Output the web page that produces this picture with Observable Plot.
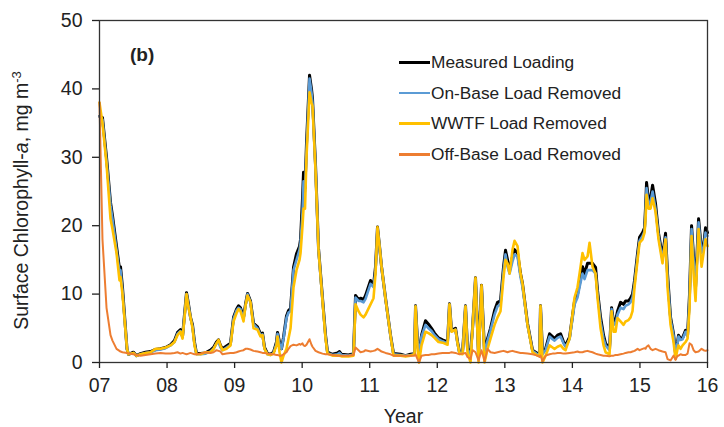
<!DOCTYPE html>
<html>
<head>
<meta charset="utf-8">
<script src="https://cdn.jsdelivr.net/npm/d3@7"></script>
<script src="https://cdn.jsdelivr.net/npm/@observablehq/plot@0.6"></script>
<style>
  html, body { margin: 0; padding: 0; background: #fff; }
  #wrap { position: relative; width: 724px; height: 427px; font-family: "Liberation Sans", Arial, sans-serif; color: #222; }
  #panel { position: absolute; left: 130px; top: 44px; font-weight: bold; font-size: 19px; }
  #legend { position: absolute; left: 399px; top: 47px; font-size: 17.3px; }
  .row { height: 30.7px; display: flex; align-items: center; }
  .swatch { width: 31px; height: 2.5px; margin-right: 1px; }
</style>
</head>
<body>
<div id="wrap">
  <div id="chart"></div>
  <div id="panel">(b)</div>
  <div id="legend"></div>
</div>
<script>
// Decimal year (years since 2000)
const years = [
  7.000, 7.044, 7.104, 7.163, 7.192, 7.252, 7.296, 7.311, 7.340, 7.407,
  7.429, 7.503, 7.548, 7.607, 7.681, 7.755, 7.829, 7.903, 7.977, 8.051,
  8.110, 8.155, 8.199, 8.229, 8.258, 8.288, 8.318, 8.347, 8.377, 8.406,
  8.436, 8.495, 8.569, 8.643, 8.688, 8.732, 8.762, 8.791, 8.821, 8.880,
  8.939, 8.984, 9.028, 9.058, 9.087, 9.132, 9.161, 9.191, 9.235, 9.280,
  9.339, 9.383, 9.413, 9.443, 9.487, 9.531, 9.576, 9.620, 9.635, 9.665,
  9.694, 9.724, 9.768, 9.798, 9.828, 9.872, 9.916, 9.961, 9.976, 10.005,
  10.020, 10.042, 10.064, 10.109, 10.138, 10.153, 10.198, 10.242, 10.301, 10.346,
  10.375, 10.449, 10.523, 10.553, 10.583, 10.686, 10.760, 10.790, 10.834, 10.864,
  10.908, 10.938, 11.012, 11.056, 11.086, 11.115, 11.145, 11.175, 11.234, 11.308,
  11.352, 11.456, 11.530, 11.604, 11.663, 11.678, 11.708, 11.730, 11.767, 11.826,
  11.870, 11.915, 11.959, 12.018, 12.078, 12.152, 12.181, 12.211, 12.270, 12.300,
  12.329, 12.374, 12.418, 12.448, 12.492, 12.522, 12.566, 12.611, 12.655, 12.700,
  12.744, 12.788, 12.848, 12.892, 12.936, 12.981, 13.010, 13.040, 13.070, 13.114,
  13.144, 13.188, 13.232, 13.262, 13.336, 13.410, 13.484, 13.514, 13.528, 13.558,
  13.603, 13.662, 13.706, 13.736, 13.780, 13.825, 13.869, 13.899, 13.958, 14.032,
  14.076, 14.106, 14.150, 14.180, 14.224, 14.254, 14.298, 14.343, 14.372, 14.417,
  14.461, 14.491, 14.550, 14.580, 14.609, 14.639, 14.668, 14.713, 14.757, 14.787,
  14.831, 14.861, 14.890, 14.920, 14.965, 14.994, 15.039, 15.068, 15.083, 15.098,
  15.127, 15.157, 15.187, 15.231, 15.275, 15.334, 15.379, 15.408, 15.453, 15.497,
  15.527, 15.557, 15.571, 15.601, 15.631, 15.675, 15.705, 15.734, 15.764, 15.794,
  15.823, 15.868, 15.912, 15.942, 15.971, 16.000
];

const measured = [
  36.0, 35.8, 30, 23.4, 21.5, 17, 13.7, 14, 11, 2,
  1.2, 1.5, 1.0, 1.3, 1.5, 1.6, 1.9, 2.0, 2.2, 2.6,
  3.2, 4.4, 4.8, 3.8, 7, 10.2, 8.5, 6.6, 5.5, 3,
  1.3, 1.3, 1.4, 1.8, 2.2, 3.0, 3.3, 2.5, 2.0, 2.4,
  2.8, 6.6, 7.8, 8.3, 8, 6.6, 8.5, 10.1, 9, 5.7,
  5.2, 4.2, 4.3, 2.2, 1.3, 1.2, 1.5, 3, 4.4, 3.0,
  2.0, 3.7, 6.8, 7.6, 7.9, 13.9, 15.9, 17.0, 18.0, 24.0,
  27.8, 25.5, 32, 42.0, 40, 38.6, 28.8, 16.7, 9.4, 4,
  1.5, 1.2, 1.4, 1.6, 1.2, 1.1, 1.3, 9.8, 9.2, 9.4,
  9.2, 9.8, 12, 11.3, 14, 19.8, 17, 14, 9.4, 4,
  1.3, 1.2, 1.0, 1.2, 1.3, 8.3, 3, 1.2, 4, 6.1,
  5.6, 5, 4.3, 3.6, 3.3, 3, 8.6, 4.7, 5, 3,
  1.5, 1.5, 8.3, 2, 1.5, 5, 12.4, 1.0, 11.3, 1.5,
  3.5, 5, 7.6, 8.8, 9, 14, 16.4, 15, 13.5, 15.5,
  16.5, 16.0, 13, 11.5, 5.7, 1.8, 1.3, 1.3, 8.3, 1.5,
  2, 4.2, 3.8, 3.5, 4, 4.2, 3, 2.5, 3.7, 9,
  10, 11.5, 14.0, 13.0, 14.5, 14.5, 14.5, 13.9, 10.5, 6.6,
  4, 2.8, 2, 8, 6, 6.1, 7.5, 8.8, 8.5, 9,
  9, 9.4, 10, 12, 16, 18.3, 19, 19.7, 22.7, 26.3,
  23.7, 24, 25.9, 23.2, 18.9, 15.4, 18.9, 13, 6.6, 4.2,
  1.3, 3, 4, 3.5, 3.6, 4.7, 4, 10, 20, 15.4,
  11, 21, 16.4, 17, 19.7, 19
];

const onBase = [
  36.0, 35.5, 29.5, 23, 21, 16.5, 13.2, 13.5, 10.5, 2,
  1.2, 1.4, 1.0, 1.2, 1.4, 1.5, 1.8, 1.9, 2.1, 2.5,
  3.0, 4.2, 4.6, 3.7, 6.8, 10.0, 8.3, 6.5, 5.3, 2.8,
  1.2, 1.2, 1.3, 1.6, 2.0, 2.8, 3.0, 2.2, 1.8, 2.2,
  2.6, 6.4, 7.6, 8.0, 7.8, 6.4, 8.3, 10.0, 8.8, 5.6,
  5.0, 4.0, 4.1, 2.0, 1.2, 1.1, 1.4, 2.8, 4.2, 2.8,
  2.0, 3.5, 6.5, 7.3, 7.5, 13.5, 15.0, 16.5, 17.5, 22,
  26.5, 25, 31, 41.5, 39.5, 38, 28.5, 16.5, 9.2, 3.8,
  1.4, 1.1, 1.2, 1.4, 1.1, 1.0, 1.2, 9.5, 9.0, 9.0,
  8.8, 9.3, 11.5, 11, 13.5, 19.5, 17, 14, 9.3, 3.9,
  1.2, 1.1, 1.0, 1.1, 1.2, 8.2, 3, 1.2, 3.8, 5.5,
  5.0, 4.6, 4.0, 3.4, 3.1, 2.8, 8.5, 4.6, 4.8, 2.8,
  1.4, 1.4, 8.2, 1.8, 1.2, 4.8, 12.2, 0.8, 11.0, 1.2,
  3.2, 4.7, 7.0, 8.2, 8.5, 13.5, 15.8, 14.0, 13.0, 14.8,
  15.8, 15.5, 12.5, 11.0, 5.5, 1.7, 1.2, 1.2, 8.2, 1.2,
  1.8, 3.8, 3.4, 3.2, 3.6, 3.8, 2.8, 2.3, 3.4, 8.5,
  9.5, 11.0, 13.0, 12.2, 13.5, 13.5, 13.5, 13.0, 10.0, 6.0,
  3.5, 2.5, 1.8, 7.8, 5.5, 5.6, 7.0, 8.0, 7.8, 8.3,
  8.5, 8.8, 9.5, 11.5, 15.5, 17.8, 18.5, 19.2, 22.0, 25.5,
  23.0, 23.5, 25.0, 22.5, 18.5, 15.0, 18.3, 12.5, 6.3, 4.0,
  1.2, 2.8, 3.8, 3.3, 3.4, 4.5, 3.8, 9.5, 19.5, 15.0,
  10.5, 20.5, 16.0, 16.8, 19.0, 18.5
];

const wwtf = [
  38.0, 35.0, 29, 21, 19.5, 16, 12, 12.5, 10, 2,
  1.2, 1.4, 1.0, 1.2, 1.4, 1.5, 2.0, 2.0, 2.2, 2.5,
  3.0, 4.0, 4.5, 3.5, 6.5, 10.0, 8.0, 6.6, 5.0, 2.5,
  1.2, 1.2, 1.5, 1.5, 2.0, 2.8, 3.3, 2.5, 1.8, 2.0,
  2.5, 6.0, 7.2, 7.8, 7.5, 6.0, 8.3, 9.8, 8.8, 5.0,
  4.8, 3.8, 4.0, 2.0, 1.2, 1.1, 1.3, 2.5, 3.8, 1.5,
  0.0, 1.0, 2.0, 3.5, 5.0, 11.0, 13.5, 15.0, 16.0, 20.0,
  22.5, 22.5, 30, 39.5, 38, 37.5, 28, 16.5, 9.0, 3.5,
  1.3, 1.0, 1.0, 1.0, 0.9, 0.9, 1.0, 8.5, 7.5, 7.0,
  6.6, 7.0, 8.5, 9.4, 13, 19.8, 17, 14, 9.3, 3.9,
  1.0, 1.0, 0.9, 1.0, 1.2, 8.2, 2.0, 0.0, 2.5, 4.5,
  4.3, 4.0, 3.6, 3.0, 2.9, 2.6, 8.5, 4.5, 4.8, 2.8,
  1.3, 1.2, 8.2, 1.5, 0.0, 5.0, 12.4, 0.0, 11.3, 0.0,
  2.0, 3.5, 5.5, 6.6, 7.5, 12.5, 15.0, 14.5, 13.0, 16.5,
  17.8, 17.0, 13.0, 11.5, 5.5, 1.5, 1.0, 1.0, 8.3, 0.0,
  1.0, 2.5, 2.2, 2.0, 2.3, 2.5, 2.0, 1.8, 3.5, 9.5,
  11.0, 13, 16.0, 15.0, 15.5, 17.5, 14.0, 13.0, 9.5, 5.0,
  2.5, 1.5, 1.2, 7.5, 4.5, 4.5, 6.5, 6.0, 5.5, 6.0,
  6.2, 6.6, 7.5, 11.0, 15.0, 17.5, 18.0, 19.0, 21.0, 24.5,
  22.5, 22.5, 24.0, 22.0, 18.0, 14.5, 18.0, 11.0, 5.5, 3.0,
  0.5, 2.0, 2.5, 2.0, 2.5, 3.0, 3.5, 8.0, 18.5, 13.0,
  9.0, 19.5, 14.0, 16.0, 18.0, 17.0
];

const offBase = [
  38.0, 18, 8, 4, 3.2, 2, 1.7, 1.6, 1.5, 1.4,
  1.3, 1.2, 1.1, 1.0, 1.1, 1.2, 1.3, 1.4, 1.3, 1.3,
  1.4, 1.5, 1.3, 1.4, 1.3, 1.2, 1.3, 1.4, 1.3, 1.2,
  1.2, 1.3, 1.5, 1.4, 1.5, 1.8, 1.7, 1.6, 1.2, 1.3,
  1.4, 1.4, 1.5, 1.6, 1.7, 1.8, 2.0, 2.0, 1.9, 1.7,
  1.6, 1.5, 1.4, 1.4, 1.3, 1.2, 1.2, 1.1, 1.1, 1.0,
  1.0, 1.2, 1.5, 2.0, 2.4, 2.6, 2.5, 2.7, 2.6, 2.8,
  2.5, 2.4, 2.6, 3.4, 2.6, 2.3, 1.7, 1.5, 1.3, 1.2,
  1.2, 1.1, 1.0, 1.0, 1.0, 1.0, 1.1, 2.2, 1.8, 1.5,
  1.6, 1.8, 1.6, 1.7, 1.8, 2.0, 1.8, 1.6, 1.4, 1.2,
  1.0, 1.0, 1.0, 1.0, 1.0, 1.2, 0.5, 0.0, 1.0, 1.1,
  1.1, 1.2, 1.2, 1.3, 1.4, 1.4, 1.4, 1.5, 1.4, 1.3,
  1.2, 1.3, 1.4, 0.8, 0.5, 1.8, 1.5, 0.3, 1.8, 0.2,
  2.0, 1.5, 1.4, 1.5, 1.6, 1.7, 1.6, 1.5, 1.6, 1.7,
  1.6, 1.5, 1.4, 1.4, 1.3, 1.2, 1.0, 0.8, 1.0, 0.2,
  1.0, 1.2, 1.3, 1.3, 1.4, 1.4, 1.3, 1.3, 1.4, 1.5,
  1.6, 1.5, 1.5, 1.6, 1.7, 1.6, 1.5, 1.3, 1.2, 1.1,
  1.0, 1.0, 0.9, 1.0, 1.0, 1.1, 1.1, 1.2, 1.3, 1.4,
  1.5, 1.5, 1.6, 1.7, 2.0, 1.8, 2.0, 2.1, 2.0, 2.3,
  2.5, 2.0, 1.8, 2.0, 1.8, 1.6, 1.5, 0.5, 0.3, 1.0,
  0.4, 1.0, 1.0, 1.2, 1.1, 1.1, 1.3, 2.8, 2.6, 1.8,
  1.5, 1.6, 2.0, 1.8, 1.7, 1.8
];

const seriesNames = ["Measured Loading", "On-Base Load Removed", "WWTF Load Removed", "Off-Base Load Removed"];
const seriesColors = ["#000000", "#5b9bd5", "#ffc000", "#ed7d31"];
const seriesValues = [measured, onBase, wwtf, offBase];
const seriesWidths = [3, 2.6, 2.6, 2];

const xTicks = [7, 8, 9, 10, 11, 12, 13, 14, 15, 16];
const yTicks = [0, 10, 20, 30, 40, 50];

const lineMarks = seriesValues.map((vals, k) =>
  Plot.line(years.map((t, i) => ({t, v: vals[i]})), {
    x: "t", y: "v", stroke: seriesColors[k], strokeWidth: seriesWidths[k],
    strokeLinejoin: "round", strokeLinecap: "round"
  })
);

const chart = Plot.plot({
  width: 724,
  height: 427,
  marginLeft: 99,
  marginRight: 17,
  marginTop: 20,
  marginBottom: 65,
  style: {fontFamily: "'Liberation Sans', Arial, sans-serif", fontSize: "19px", color: "#222", background: "transparent"},
  x: {domain: [7, 16]},
  y: {domain: [0, 50]},
  marks: [
    ...lineMarks,
    Plot.frame({stroke: "#333", strokeWidth: 1.3}),
    Plot.axisX({ticks: xTicks, tickFormat: d => String(d).padStart(2, "0"), tickSize: 6, tickPadding: 10,
      fontSize: 19.5, label: "Year", labelAnchor: "center", labelOffset: 60, strokeWidth: 1.3}),
    Plot.axisY({ticks: yTicks, tickSize: 7, tickPadding: 10, fontSize: 19.5,
      label: "Surface Chlorophyll-a, mg m-3", labelAnchor: "center", labelOffset: 85, strokeWidth: 1.3})
  ]
});
document.getElementById("chart").appendChild(chart);

// x-axis label without arrow
const xlab = d3.select(chart).select('g[aria-label="x-axis label"] text');
if (!xlab.empty()) xlab.text("Year").attr("font-size", "19.5px");

// Rich y-axis label: italic "a" and superscript "-3"
const ylab = d3.select(chart).select('g[aria-label="y-axis label"] text');
if (!ylab.empty()) {
  ylab.text(null).attr("font-size", "19.5px").attr("dx", "-9");
  ylab.append("tspan").text("Surface Chlorophyll-");
  ylab.append("tspan").attr("font-style", "italic").text("a");
  ylab.append("tspan").text(", mg m");
  ylab.append("tspan").attr("font-size", "13px").attr("baseline-shift", "super").text("-3");
}

// Legend
const legend = d3.select("#legend");
seriesNames.forEach((name, k) => {
  const row = legend.append("div").attr("class", "row");
  row.append("div").attr("class", "swatch").style("background", seriesColors[k]);
  row.append("span").text(name);
});
</script>
</body>
</html>
